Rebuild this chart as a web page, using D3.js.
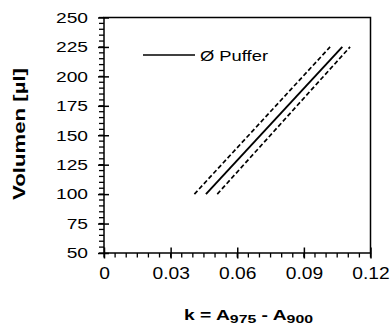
<!DOCTYPE html>
<html><head><meta charset="utf-8">
<script src="https://cdn.jsdelivr.net/npm/d3@7"></script>
<style>body{margin:0;background:#fff}svg{display:block}text{font-family:"Liberation Sans",Arial,sans-serif}</style>
</head><body><svg id="c" width="390" height="326"></svg>
<script>
const xTicks = [0, 0.03, 0.06, 0.09, 0.12];
const xTickLabels = ["0", "0.03", "0.06", "0.09", "0.12"];
const yTicks = [50, 75, 100, 125, 150, 175, 200, 225, 250];
const volume = [100, 225];
const kMean = [0.0459, 0.1073];
const kLower = [0.0407, 0.1018];
const kUpper = [0.0510, 0.1108];
const legendLabel = "Ø Puffer";

const svg = d3.select("#c");
const L = 104, R = 370.5, T = 17.5, B = 253;
const x = d3.scaleLinear().domain([0, 0.12]).range([L, R]);
const y = d3.scaleLinear().domain([50, 250]).range([B, T]);

function stretch(sel, f) {
  sel.each(function () {
    const w = this.getComputedTextLength();
    d3.select(this).attr("textLength", w * f).attr("lengthAdjust", "spacingAndGlyphs");
  });
}

// frame
svg.append("rect").attr("x", L).attr("y", T).attr("width", R - L).attr("height", B - T)
  .attr("fill", "none").attr("stroke", "#000").attr("stroke-width", 1.5);

// minor ticks
const xMinor = d3.range(0, 0.1201, 0.005);
svg.append("g").selectAll("line").data(xMinor).join("line")
  .attr("x1", d => x(d)).attr("x2", d => x(d)).attr("y1", B).attr("y2", B + 4.5)
  .attr("stroke", "#000").attr("stroke-width", 1.3);
const yMinor = d3.range(50, 250.1, 5);
svg.append("g").selectAll("line").data(yMinor).join("line")
  .attr("x1", L - 5).attr("x2", L).attr("y1", d => y(d)).attr("y2", d => y(d))
  .attr("stroke", "#000").attr("stroke-width", 1.3);

// major axes
const xAxis = d3.axisBottom(x).tickValues(xTicks).tickFormat((d, i) => xTickLabels[i]).tickSizeInner(5.5).tickSizeOuter(0).tickPadding(9);
const gx = svg.append("g").attr("transform", `translate(0,${B})`).call(xAxis);
gx.select(".domain").remove();
gx.selectAll(".tick line").attr("y1", -5.5).attr("y2", 5.5).attr("stroke-width", 1.5);
gx.selectAll("text").attr("font-size", 16).attr("fill", "#000").attr("font-family", "Liberation Sans, Arial");
stretch(gx.selectAll("text"), 1.2);

const yAxis = d3.axisLeft(y).tickValues(yTicks).tickSizeInner(6).tickSizeOuter(0).tickPadding(10);
const gy = svg.append("g").attr("transform", `translate(${L},0)`).call(yAxis);
gy.select(".domain").remove();
gy.selectAll(".tick line").attr("x1", -6).attr("x2", 5).attr("stroke-width", 1.5);
gy.selectAll("text").attr("font-size", 15).attr("fill", "#000").attr("font-family", "Liberation Sans, Arial");
stretch(gy.selectAll("text"), 1.28);

// lines
const line = d3.line().x(d => x(d[0])).y(d => y(d[1]));
const mk = ks => ks.map((k, i) => [k, volume[i]]);
svg.append("path").attr("d", line(mk(kLower))).attr("fill", "none").attr("stroke", "#000").attr("stroke-width", 1.7).attr("stroke-dasharray", "4.5,2.5");
svg.append("path").attr("d", line(mk(kUpper))).attr("fill", "none").attr("stroke", "#000").attr("stroke-width", 1.7).attr("stroke-dasharray", "4.5,2.5");
svg.append("path").attr("d", line(mk(kMean))).attr("fill", "none").attr("stroke", "#000").attr("stroke-width", 1.9);

// legend
svg.append("line").attr("x1", 143).attr("x2", 195).attr("y1", 55).attr("y2", 55).attr("stroke", "#000").attr("stroke-width", 1.6);
const lt = svg.append("text").attr("x", 200).attr("y", 60.5).attr("font-size", 14.5).text(legendLabel);
lt.attr("textLength", 68).attr("lengthAdjust", "spacingAndGlyphs");

// axis titles
const xt = svg.append("text").attr("x", 184).attr("y", 319.5).attr("font-size", 14).attr("font-weight", "bold")
  .attr("textLength", 129).attr("lengthAdjust", "spacingAndGlyphs");
xt.append("tspan").text("k = A");
xt.append("tspan").attr("font-size", 11.5).attr("dy", 3).text("975");
xt.append("tspan").attr("dy", -3).text(" - A");
xt.append("tspan").attr("font-size", 11.5).attr("dy", 3).text("900");

svg.append("text").attr("transform", "translate(25,134) rotate(-90)").attr("text-anchor", "middle")
  .attr("font-size", 17).attr("font-weight", "bold").attr("textLength", 132).attr("lengthAdjust", "spacingAndGlyphs")
  .text("Volumen [µl]");
</script></body></html>
